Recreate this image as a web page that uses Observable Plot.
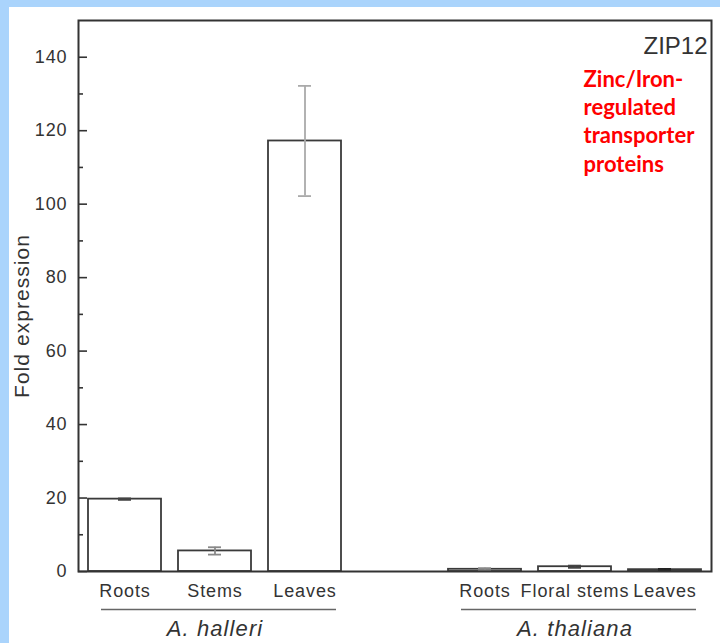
<!DOCTYPE html>
<html>
<head>
<meta charset="utf-8">
<script src="https://cdn.jsdelivr.net/npm/d3@7"></script>
<script src="https://cdn.jsdelivr.net/npm/@observablehq/plot@0.6"></script>
<style>
  html, body { margin: 0; padding: 0; background: #ffffff; }
  #page {
    width: 711px; height: 636px;
    border-top: 7px solid #aad4fc;
    border-left: 9px solid #aad4fc;
    background: #ffffff;
  }
  #page svg { display: block; }
  .wide text { letter-spacing: 0.05em; }
</style>
</head>
<body>
<div id="page"></div>
<script>
// ZIP12 fold expression by species and tissue
const species = ["A. halleri", "A. halleri", "A. halleri", "A. thaliana", "A. thaliana", "A. thaliana"];
const tissues = ["Roots", "Stems", "Leaves", "Roots", "Floral stems", "Leaves"];
const means   = [19.7, 5.6, 117.2, 0.6, 1.3, 0.5];
const errors  = [0.2, 1.0, 15.0, 0.3, 0.3, 0.2];
const errorColors = ["#444", "#888", "#aaa", "#888", "#444", "#222"];

const majorTicks = [0, 20, 40, 60, 80, 100, 120, 140];
const minorTicks = [10, 30, 50, 70, 90, 110, 130];

const yLabel = "Fold expression";
const geneName = "ZIP12";
const familyNote = "Zinc/Iron-\nregulated\ntransporter\nproteins";

const rows = tissues.map((t, i) => ({
  key: species[i] + "|" + t,
  species: species[i],
  tissue: t,
  mean: means[i],
  err: errors[i],
  errColor: errorColors[i]
}));

const speciesList = Array.from(new Set(species));
// one empty slot between the two species groups
const gapKey = "gap";
const domain = [];
speciesList.forEach((s, j) => {
  if (j > 0) domain.push(gapKey);
  rows.filter(r => r.species === s).forEach(r => domain.push(r.key));
});

const groups = speciesList.map(s => {
  const members = rows.filter(r => r.species === s);
  return {
    species: s,
    first: members[0].key,
    last: members[members.length - 1].key,
    middle: members[Math.floor(members.length / 2)].key
  };
});

const font = "'Liberation Sans', Arial, sans-serif";

const chart = Plot.plot({
  width: 711,
  height: 636,
  marginLeft: 69,
  marginRight: 9,
  marginTop: 13,
  marginBottom: 72,
  style: { fontFamily: font, fontSize: "18px", color: "#333", background: "#fff" },
  x: { domain, paddingInner: 0.19, paddingOuter: 0.095, axis: null },
  y: { domain: [0, 150], axis: null },
  marks: [
    // y tick labels
    Plot.axisY({ ticks: majorTicks, tickSize: 0, tickPadding: 11, fill: "#333",
                 fontSize: 18, label: null, className: "wide" }),
    // inward major and minor ticks
    Plot.axisY({ ticks: majorTicks, tickSize: -9, tickFormat: () => "", label: null, stroke: "#333", strokeWidth: 1.6 }),
    Plot.axisY({ ticks: minorTicks, tickSize: -5, tickFormat: () => "", label: null, stroke: "#333", strokeWidth: 1.6 }),
    Plot.text([yLabel], {
      frameAnchor: "left", rotate: -90, dx: -56, dy: 20, fontSize: 21,
      textAnchor: "middle", lineAnchor: "middle", fill: "#333", className: "wide"
    }),
    // bars
    Plot.barY(rows, { x: "key", y: "mean", fill: "#fff", stroke: "#3a3a3a", strokeWidth: 1.8 }),
    // error bars
    Plot.ruleX(rows, { x: "key", y1: d => d.mean - d.err, y2: d => d.mean + d.err, stroke: "errColor", strokeWidth: 1.8 }),
    Plot.tickY(rows, { x: "key", y: d => d.mean + d.err, stroke: "errColor", strokeWidth: 1.8, insetLeft: 30, insetRight: 30 }),
    Plot.tickY(rows, { x: "key", y: d => d.mean - d.err, stroke: "errColor", strokeWidth: 1.8, insetLeft: 30, insetRight: 30 }),
    // tissue labels
    Plot.text(rows, { x: "key", text: "tissue", frameAnchor: "bottom", dy: 20, lineAnchor: "middle",
                      fontSize: 18, fill: "#333", className: "wide" }),
    // species group underline and names
    Plot.ruleY(groups, { y: 0, x1: "first", x2: "last", dy: 38, insetLeft: 13, insetRight: 5,
                         stroke: "#666", strokeWidth: 1.6 }),
    Plot.text(groups, { x: "middle", text: "species", frameAnchor: "bottom", dy: 57, lineAnchor: "middle",
                        fontSize: 22, fontStyle: "italic", fill: "#333", className: "wide" }),
    // gene name and family note
    Plot.text([geneName], { frameAnchor: "top-right", dx: -4, dy: 16, fontSize: 24, fill: "#333",
                            textAnchor: "end" }),
    Plot.text([familyNote], { frameAnchor: "top-right", dx: -128, dy: 46, textAnchor: "start",
                              lineAnchor: "top", lineHeight: 1.29, fontSize: 22, fontWeight: "bold",
                              fill: "#ff0000", fontFamily: "Lato, 'Open Sans', sans-serif" }),
    Plot.frame({ stroke: "#333", strokeWidth: 2 })
  ]
});

document.getElementById("page").appendChild(chart);
</script>
</body>
</html>
